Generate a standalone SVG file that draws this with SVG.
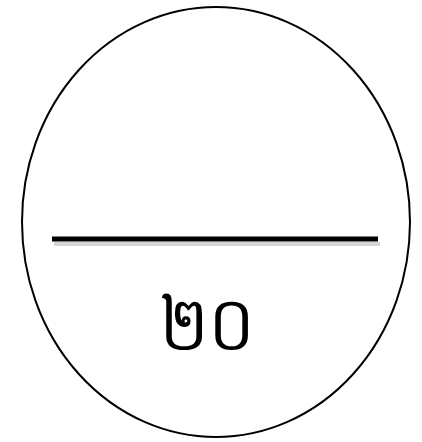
<svg xmlns="http://www.w3.org/2000/svg" width="422" height="442" viewBox="0 0 422 442">
<defs>
<style>
.outline{fill:#fff;stroke:#000;stroke-width:2}
.bar{stroke:#000;stroke-width:5;stroke-linecap:butt}
.shadow{stroke:#bbb;stroke-width:4;opacity:0.6}
.lbl{font-family:"Noto Sans","DejaVu Sans","Liberation Sans",sans-serif;font-size:76px;fill:#000;text-anchor:middle}
</style>
</defs>
<rect width="422" height="442" fill="#fff"/>
<g id="node1">
<ellipse class="outline" cx="216" cy="222" rx="194" ry="215"/>
<line class="shadow" x1="54" y1="244" x2="380" y2="244"/>
<line class="bar" x1="52" y1="239" x2="378" y2="239"/>
<text class="lbl" x="207" y="350" textLength="94" lengthAdjust="spacingAndGlyphs">២០</text>
</g>
<g id="connectors"/>
</svg>
